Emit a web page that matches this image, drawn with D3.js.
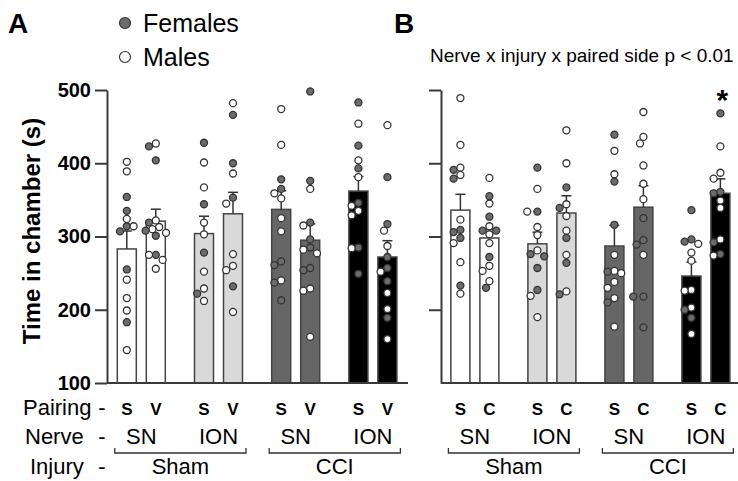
<!DOCTYPE html>
<html>
<head>
<meta charset="utf-8">
<script src="https://cdn.jsdelivr.net/npm/d3@7"></script>
<style>
  body { margin: 0; background: #fff; }
  text { font-family: "Liberation Sans", Arial, Helvetica, sans-serif; fill: #000; }
</style>
</head>
<body>
<svg width="738" height="481"></svg>
<script>
// ---- data ----
const nerves = ["SN", "ION", "SN", "ION"];
const injuries = ["Sham", "CCI"];
const pairingA = ["S", "V"];
const pairingB = ["S", "C"];
const barFills = ["#ffffff", "#ffffff", "#d9d9d9", "#d9d9d9", "#666666", "#666666", "#000000", "#000000"];
const yTicks = [100, 200, 300, 400, 500];

// Panel A: mean and SEM per bar
const meanA = [283, 321, 304, 331, 337, 295, 362, 272];
const semA = [24.5, 16.3, 23.7, 29.3, 25.5, 22.2, 19.9, 22.3];
const femalesA = [
  [354, 335, 314, 307, 255, 183],
  [423, 404, 319, 308, 301, 275],
  [428, 344, 278, 222],
  [466, 400, 353, 232],
  [378, 365, 266, 261, 237, 213],
  [498, 376, 319, 296, 285, 257, 254],
  [483, 424, 393, 346, 285, 249],
  [381, 317, 272, 257, 239, 189]
];
const malesA = [
  [402, 389, 324, 314, 241, 216, 199, 145],
  [427, 322, 313, 310, 305, 275, 268, 256],
  [401, 367, 319, 303, 252, 229, 212],
  [482, 386, 345, 276, 260, 254, 197],
  [474, 425, 359, 352, 325, 307, 240],
  [365, 315, 282, 277, 226, 229, 163],
  [454, 404, 381, 342, 335, 329, 284],
  [452, 308, 287, 252, 223, 201, 160]
];

// Panel B: mean and SEM per bar
const meanB = [336, 298, 290, 332, 287, 340, 246, 359];
const semB = [21.6, 11.6, 15.9, 23.6, 28.2, 29.3, 19.1, 19.7];
const femalesB = [
  [391, 379, 309, 306, 298, 233],
  [355, 327, 308, 308, 272, 230],
  [394, 334, 276, 273, 257, 227],
  [367, 339, 298, 264, 221],
  [439, 375, 316, 252, 210],
  [325, 295, 289, 218, 218, 176],
  [336, 293, 296, 200, 189],
  [468, 361, 359, 292, 276]
];
const malesB = [
  [489, 425, 394, 384, 323, 291, 265, 222],
  [380, 345, 314, 303, 291, 260, 253, 239],
  [365, 334, 313, 302, 281, 219, 190],
  [445, 400, 344, 328, 308, 275, 225],
  [417, 385, 275, 253, 250, 238, 230, 216, 177],
  [470, 436, 427, 397, 372, 351, 275],
  [290, 278, 267, 226, 227, 203, 167],
  [423, 387, 379, 349, 339, 296, 274]
];

// ---- layout ----
const svg = d3.select("svg");
const y = d3.scaleLinear().domain([100, 500]).range([383, 90]);
const barW = 19;
const axisColor = "#3a3a3a";

const panels = [
  { x0: 102.7, x1: 411.5, axisX: 107, baseEnd: 408, pairing: pairingA, mean: meanA, sem: semA, fem: femalesA, mal: malesA, labels: true },
  { x0: 436.3, x1: 744.3, axisX: 441, baseEnd: 738, pairing: pairingB, mean: meanB, sem: semB, fem: femalesB, mal: malesB, labels: false }
];

// simple beeswarm: offsets in small steps until no overlap
function swarm(vals, cx) {
  const placed = [];
  vals.slice().sort((a, b) => b.v - a.v).forEach(p => {
    const py = y(p.v);
    for (const k of [0, -1, 1, -2, 2, -3, 3, -4, 4, -5, 5]) {
      const px = cx + k * 3.4;
      if (placed.every(q => (q.x - px) ** 2 + (q.y - py) ** 2 >= 6.8 * 6.8)) {
        placed.push({ x: px, y: py, f: p.f });
        break;
      }
    }
  });
  return placed;
}

panels.forEach(P => {
  const g = svg.append("g");
  const group = d3.scaleBand().domain(d3.range(4)).range([P.x0, P.x1]);
  const inner = d3.scalePoint().domain(P.pairing).range([24.1, 53.1]);
  const cx = i => group(Math.floor(i / 2)) + inner(P.pairing[i % 2]);

  // y axis
  const axis = d3.axisLeft(y)
    .tickValues(P.labels ? yTicks : yTicks.slice(1))
    .tickSize(12).tickSizeOuter(0).tickPadding(4);
  if (!P.labels) axis.tickFormat("");
  const ax = g.append("g").attr("transform", `translate(${P.axisX},0)`).call(axis);
  ax.selectAll("path, line").attr("stroke", axisColor).attr("stroke-width", 2);
  ax.selectAll("text").style("font-size", "20px").style("font-weight", "bold")
    .style("font-family", '"Liberation Sans", Arial, sans-serif').attr("fill", "#000");

  // bars
  g.selectAll("rect.bar").data(P.mean).join("rect")
    .attr("x", (d, i) => cx(i) - barW / 2)
    .attr("y", d => y(d))
    .attr("width", barW)
    .attr("height", d => y(100) - y(d))
    .attr("fill", (d, i) => barFills[i])
    .attr("stroke", "#444").attr("stroke-width", 1.5);

  // error bars (upper SEM)
  P.mean.forEach((m, i) => {
    const top = y(m + P.sem[i]);
    g.append("line").attr("x1", cx(i)).attr("x2", cx(i)).attr("y1", y(m)).attr("y2", top)
      .attr("stroke", "#333").attr("stroke-width", 1.5);
    g.append("line").attr("x1", cx(i) - 5).attr("x2", cx(i) + 5).attr("y1", top).attr("y2", top)
      .attr("stroke", "#333").attr("stroke-width", 1.5);
  });

  // baseline
  g.append("line").attr("x1", P.axisX).attr("x2", P.baseEnd).attr("y1", y(100)).attr("y2", y(100))
    .attr("stroke", axisColor).attr("stroke-width", 2);

  // individual animals
  P.mean.forEach((m, i) => {
    const pts = P.fem[i].map(v => ({ v, f: true })).concat(P.mal[i].map(v => ({ v, f: false })));
    g.selectAll(null).data(swarm(pts, cx(i))).join("circle")
      .attr("cx", d => d.x).attr("cy", d => d.y).attr("r", 3.5)
      .attr("fill", d => d.f ? "#6b6b6b" : "#ffffff")
      .attr("stroke", "#333").attr("stroke-width", 1.3);
  });

  // pairing row
  P.mean.forEach((m, i) => {
    g.append("text").attr("x", cx(i)).attr("y", 415).attr("text-anchor", "middle")
      .style("font-size", "17px").style("font-weight", "bold").text(P.pairing[i % 2]);
  });
  // nerve row
  nerves.forEach((n, k) => {
    g.append("text").attr("x", group(k) + group.bandwidth() / 2).attr("y", 444)
      .attr("text-anchor", "middle").style("font-size", "22px").text(n);
  });
  // injury brackets
  injuries.forEach((inj, k) => {
    const left = cx(k * 4) - 12, right = cx(k * 4 + 3) + 13;
    g.append("path").attr("d", `M${left},448V453H${right}V448`)
      .attr("fill", "none").attr("stroke", "#333").attr("stroke-width", 1.3);
    g.append("text").attr("x", (left + right) / 2).attr("y", 474)
      .attr("text-anchor", "middle").style("font-size", "22px").text(inj);
  });

  // significance marker on the last bar of panel B
  if (!P.labels) {
    g.append("text").attr("x", cx(7) + 2).attr("y", 110).attr("text-anchor", "middle")
      .style("font-size", "30px").style("font-weight", "bold").text("*");
  }
});

// row titles
[["Pairing", 415], ["Nerve", 444], ["Injury", 474]].forEach(([t, yy], k) => {
  svg.append("text").attr("x", [23, 25, 30][k]).attr("y", yy).style("font-size", "22px").text(t);
  svg.append("text").attr("x", 102).attr("y", yy).attr("text-anchor", "middle").style("font-size", "22px").text("-");
});

// y axis title
svg.append("text").attr("transform", "translate(40,231) rotate(-90)")
  .attr("text-anchor", "middle").style("font-size", "24px").style("font-weight", "bold")
  .text("Time in chamber (s)");

// panel letters
svg.append("text").attr("x", 8).attr("y", 33).style("font-size", "28px").style("font-weight", "bold").text("A");
svg.append("text").attr("x", 394).attr("y", 33).style("font-size", "28px").style("font-weight", "bold").text("B");

// legend
[["Females", "#6b6b6b", 23], ["Males", "#ffffff", 57]].forEach(([t, c, yy]) => {
  svg.append("circle").attr("cx", 125).attr("cy", yy).attr("r", 5.5)
    .attr("fill", c).attr("stroke", "#333").attr("stroke-width", 1.2);
  svg.append("text").attr("x", 143).attr("y", yy + 9).style("font-size", "25px").text(t);
});

// stats note
svg.append("text").attr("x", 430).attr("y", 62).style("font-size", "19px")
  .text("Nerve x injury x paired side p < 0.01");
</script>
</body>
</html>
